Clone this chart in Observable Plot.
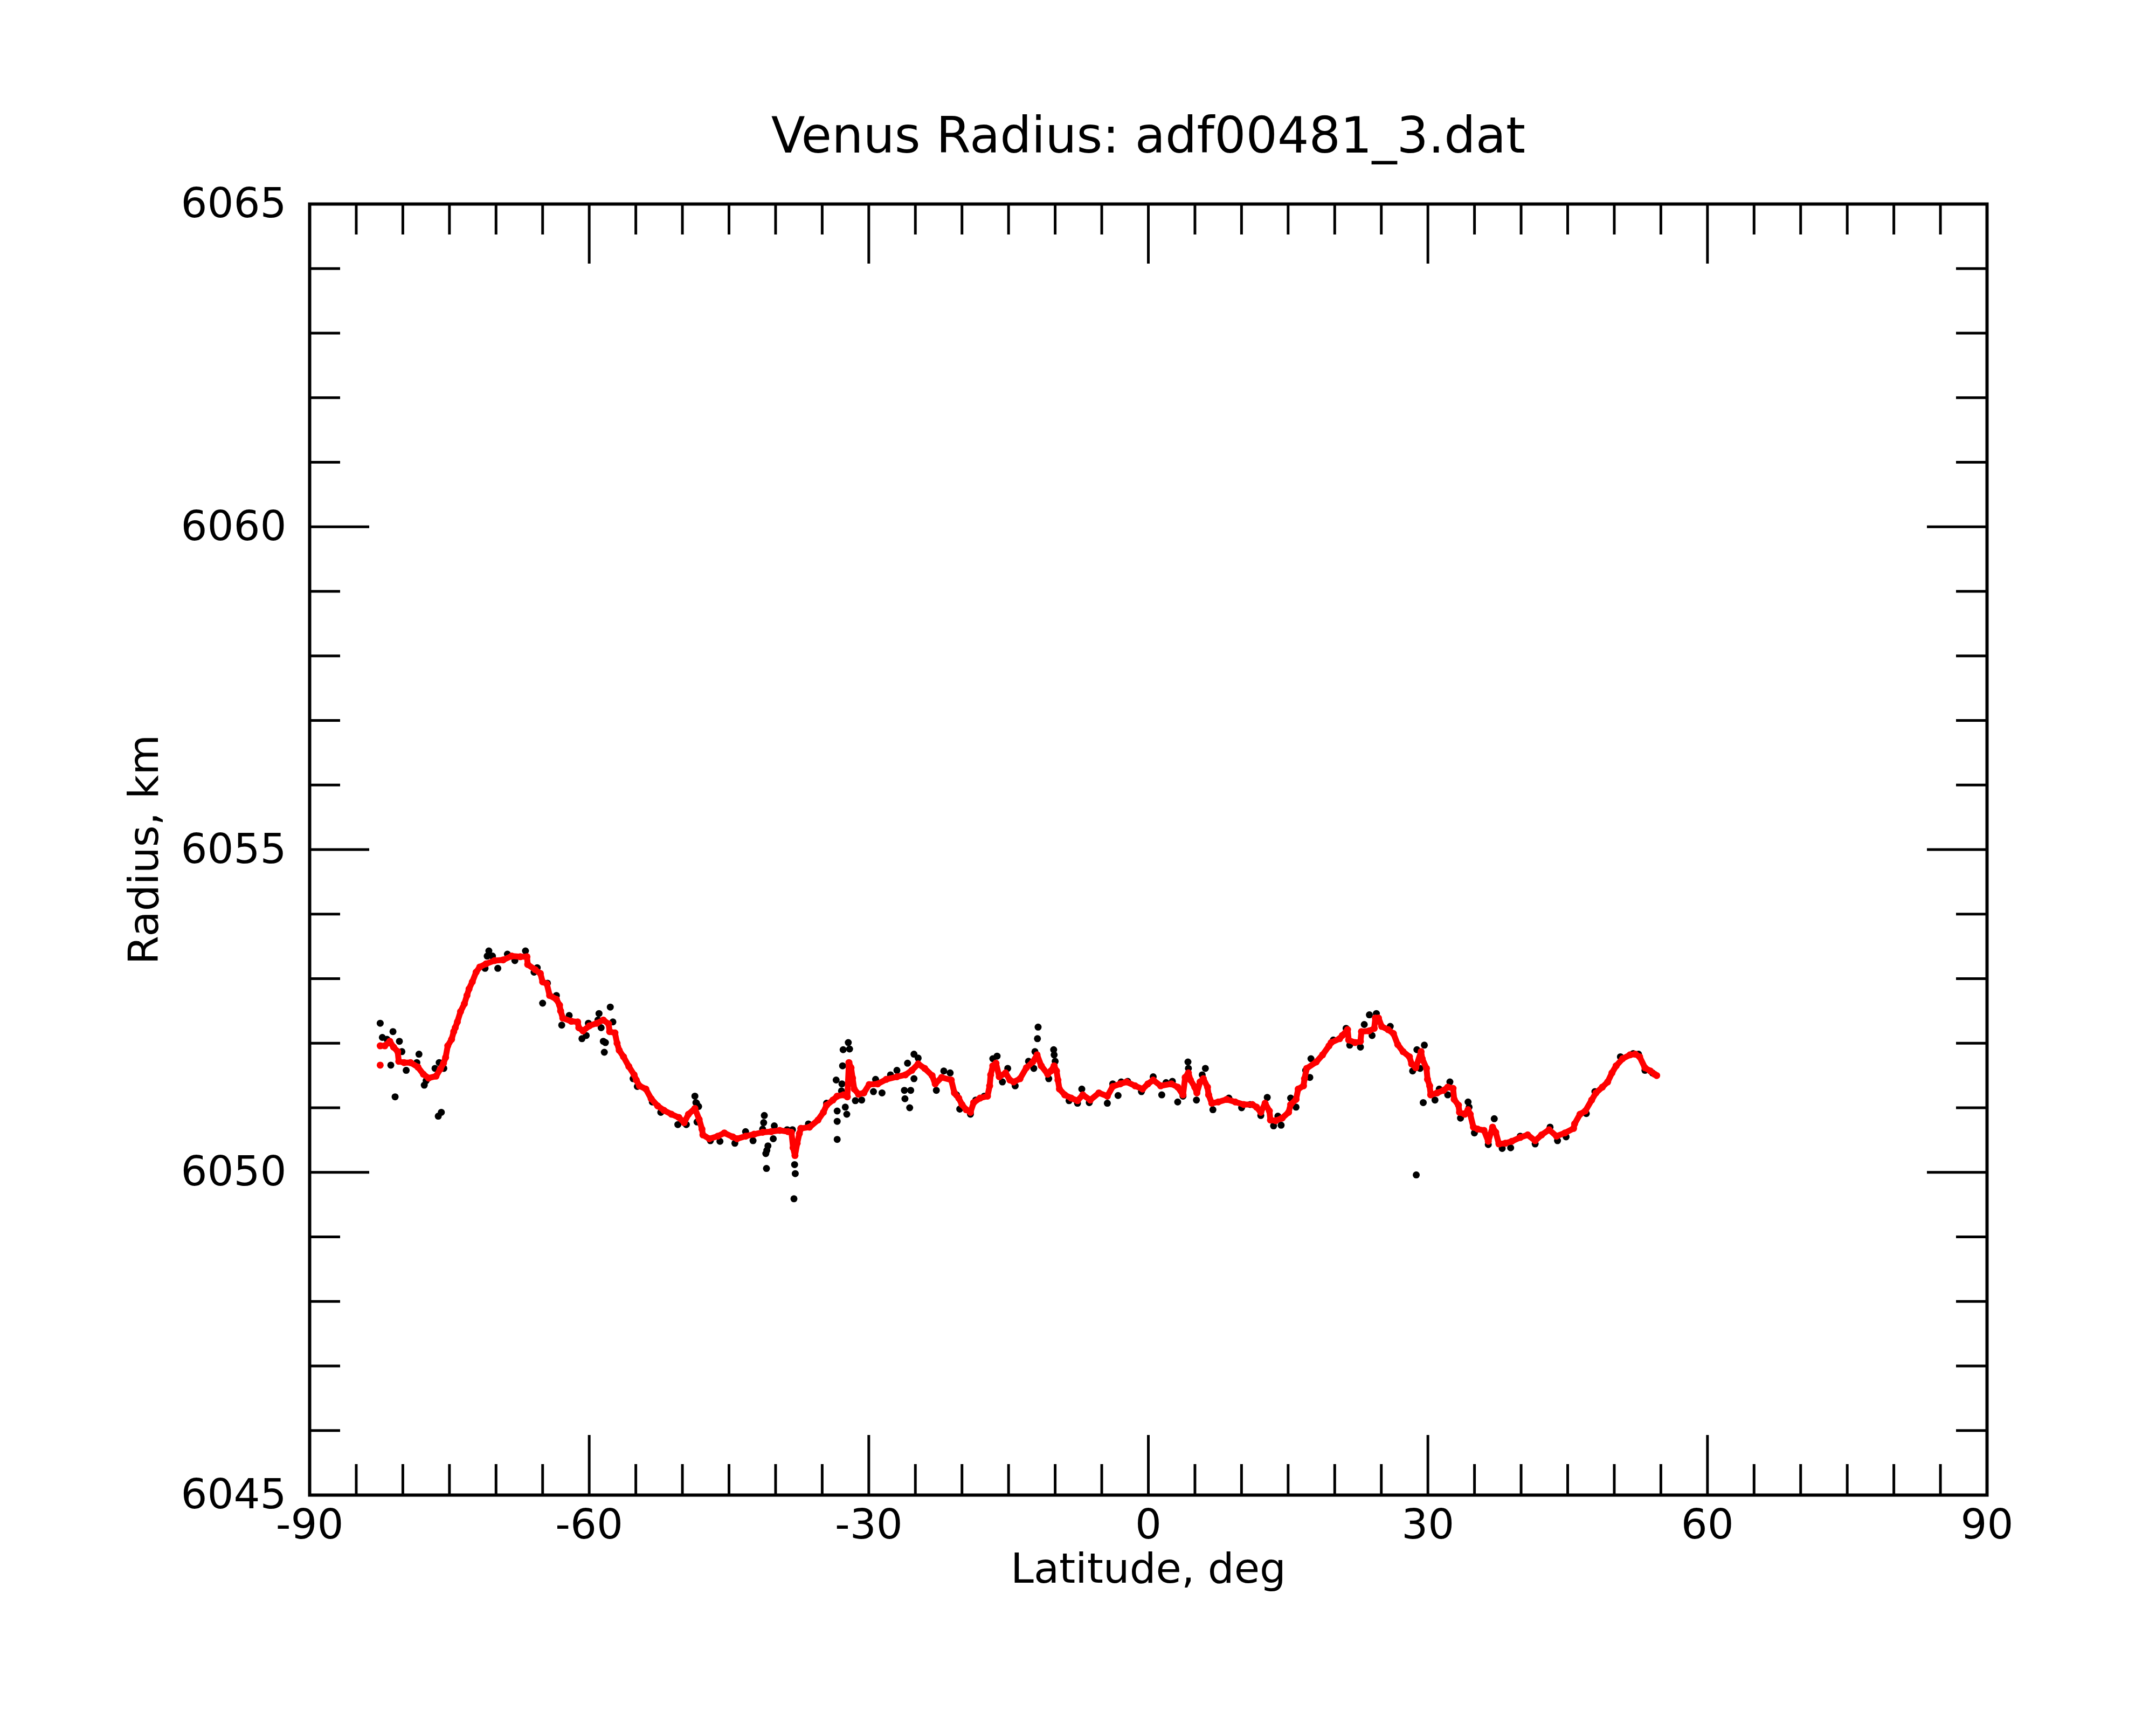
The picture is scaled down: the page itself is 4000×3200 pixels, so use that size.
<!DOCTYPE html>
<html><head><meta charset="utf-8">
<script src="https://cdn.jsdelivr.net/npm/d3@7"></script>
<script src="https://cdn.jsdelivr.net/npm/@observablehq/plot@0.6"></script>
<style>html,body{margin:0;padding:0;background:#fff;}</style>
</head><body><div id="chart"></div>
<script>
const title = "Venus Radius: adf00481_3.dat";
const xLabel = "Latitude, deg";
const yLabel = "Radius, km";
const xTicks = [-90, -60, -30, 0, 30, 60, 90];
const xTickLabels = ["-90", "-60", "-30", "0", "30", "60", "90"];
const xMinor = [-85, -80, -75, -70, -65, -55, -50, -45, -40, -35, -25, -20, -15, -10, -5, 5, 10, 15, 20, 25, 35, 40, 45, 50, 55, 65, 70, 75, 80, 85];
const yTicks = [6045, 6050, 6055, 6060, 6065];
const yTickLabels = ["6045", "6050", "6055", "6060", "6065"];
const yMinor = [6046, 6047, 6048, 6049, 6051, 6052, 6053, 6054, 6056, 6057, 6058, 6059, 6061, 6062, 6063, 6064];

// smoothed radius (red)
const redLat = [-82.43,-81.93,-81.40,-81.00,-80.55,-80.44,-79.87,-79.18,-78.38,-77.80,-77.24,-76.44,-75.98,-75.64,-75.41,-75.18,-74.77,-74.54,-74.38,-74.15,-73.81,-73.40,-73.12,-72.90,-72.55,-72.14,-71.75,-71.07,-70.15,-69.24,-68.32,-67.40,-66.68,-66.60,-65.80,-65.24,-65.00,-64.55,-64.25,-63.52,-63.18,-63.07,-62.84,-61.92,-61.24,-61.12,-60.67,-59.98,-59.18,-58.49,-57.92,-57.81,-57.24,-57.01,-56.78,-56.32,-55.75,-55.18,-54.95,-54.61,-53.92,-53.35,-52.66,-51.98,-51.18,-50.38,-49.81,-49.35,-48.66,-48.20,-47.90,-47.80,-47.11,-46.20,-45.50,-44.60,-44.14,-43.22,-42.31,-41.39,-40.48,-39.56,-38.65,-38.30,-38.12,-37.92,-37.68,-37.45,-37.28,-36.36,-35.45,-34.87,-34.53,-33.85,-33.39,-32.70,-32.30,-32.13,-31.90,-31.74,-31.56,-31.10,-30.53,-29.96,-29.04,-28.13,-26.98,-26.07,-25.38,-24.70,-24.00,-23.21,-22.87,-22.18,-21.15,-20.81,-20.35,-20.00,-19.55,-19.09,-18.75,-18.06,-17.26,-17.03,-16.92,-16.69,-16.35,-16.00,-15.32,-14.86,-14.46,-13.77,-13.09,-12.40,-11.94,-11.49,-10.80,-10.46,-10.11,-9.85,-9.70,-9.54,-8.97,-8.28,-7.60,-7.03,-6.23,-5.31,-4.40,-3.82,-3.02,-2.34,-1.42,-0.62,-0.05,0.52,1.32,2.47,3.15,3.72,3.95,4.30,4.52,4.98,5.21,5.55,5.90,6.35,6.47,6.81,7.50,8.41,9.33,10.24,11.16,11.61,12.07,12.53,12.99,13.10,13.67,14.36,15.05,15.27,15.85,16.08,16.65,16.76,16.99,18.02,18.70,19.39,19.62,20.53,20.81,21.38,21.50,22.18,22.76,22.87,23.67,24.24,24.36,24.70,25.04,25.73,26.30,26.76,27.33,28.02,28.25,28.70,29.27,29.39,29.85,29.96,30.19,30.30,30.99,31.68,32.13,32.70,32.82,33.28,33.39,33.96,34.31,34.54,34.88,35.34,36.02,36.48,36.94,37.28,37.62,38.31,39.00,39.91,40.71,41.51,42.20,43.00,43.80,44.71,45.63,45.74,46.32,46.89,47.57,48.03,48.72,49.29,49.75,50.20,50.89,51.69,52.26,52.72,53.29,53.87,54.32,54.55];
const redVal = [6051.96,6051.96,6052.03,6051.94,6051.87,6051.72,6051.70,6051.70,6051.63,6051.52,6051.46,6051.49,6051.60,6051.69,6051.78,6051.96,6052.06,6052.18,6052.24,6052.33,6052.49,6052.61,6052.74,6052.84,6052.95,6053.10,6053.18,6053.23,6053.28,6053.29,6053.35,6053.34,6053.34,6053.22,6053.14,6053.08,6052.95,6052.92,6052.74,6052.68,6052.59,6052.50,6052.39,6052.34,6052.33,6052.24,6052.19,6052.27,6052.31,6052.36,6052.30,6052.18,6052.16,6052.00,6051.89,6051.79,6051.64,6051.51,6051.43,6051.34,6051.29,6051.14,6051.03,6050.96,6050.90,6050.85,6050.77,6050.90,6050.99,6050.82,6050.67,6050.58,6050.52,6050.56,6050.61,6050.55,6050.52,6050.56,6050.59,6050.62,6050.63,6050.65,6050.63,6050.62,6050.38,6050.26,6050.45,6050.60,6050.68,6050.70,6050.81,6050.93,6051.04,6051.12,6051.18,6051.20,6051.17,6051.70,6051.62,6051.46,6051.29,6051.21,6051.23,6051.36,6051.37,6051.44,6051.48,6051.51,6051.58,6051.68,6051.61,6051.50,6051.37,6051.47,6051.43,6051.23,6051.15,6051.05,6050.97,6050.93,6051.08,6051.15,6051.18,6051.34,6051.51,6051.65,6051.69,6051.48,6051.54,6051.43,6051.40,6051.45,6051.62,6051.71,6051.82,6051.65,6051.52,6051.57,6051.65,6051.57,6051.43,6051.29,6051.20,6051.15,6051.11,6051.20,6051.12,6051.23,6051.18,6051.33,6051.37,6051.40,6051.34,6051.29,6051.37,6051.43,6051.34,6051.37,6051.32,6051.20,6051.47,6051.54,6051.43,6051.32,6051.23,6051.40,6051.45,6051.32,6051.20,6051.07,6051.09,6051.13,6051.09,6051.05,6051.05,6051.01,6050.93,6051.07,6050.95,6050.81,6050.80,6050.84,6050.93,6051.05,6051.13,6051.29,6051.34,6051.45,6051.61,6051.71,6051.82,6051.96,6052.01,6052.07,6052.12,6052.21,6052.05,6052.01,6052.03,6052.18,6052.19,6052.23,6052.39,6052.39,6052.26,6052.21,6052.15,6051.98,6051.87,6051.79,6051.68,6051.62,6051.87,6051.76,6051.61,6051.44,6051.34,6051.20,6051.23,6051.27,6051.32,6051.30,6051.13,6051.04,6050.93,6050.90,6050.97,6050.90,6050.70,6050.67,6050.65,6050.48,6050.70,6050.62,6050.44,6050.45,6050.48,6050.54,6050.58,6050.49,6050.58,6050.66,6050.56,6050.61,6050.68,6050.75,6050.90,6050.95,6051.12,6051.23,6051.32,6051.40,6051.54,6051.65,6051.76,6051.82,6051.83,6051.79,6051.62,6051.57,6051.52,6051.50];
const redExtraLat = [-82.43];
const redExtraVal = [6051.66];

// raw radius samples (black)
const blackLat = [-82.43,-82.20,-81.70,-81.06,-80.37,-80.10,-81.29,-80.83,-79.64,-78.50,-78.27,-77.70,-77.50,-76.55,-76.10,-76.20,-75.87,-75.60,-71.18,-70.95,-70.77,-70.38,-69.81,-68.78,-67.98,-66.84,-65.92,-65.58,-65.00,-64.48,-63.52,-62.95,-62.15,-60.78,-60.32,-60.09,-59.06,-58.95,-58.72,-58.49,-58.26,-58.38,-57.74,-57.46,-55.29,-54.84,-53.23,-52.32,-50.49,-49.58,-48.66,-48.55,-48.43,-48.48,-48.26,-47.00,-45.97,-44.37,-43.22,-42.42,-41.21,-41.28,-41.39,-40.82,-40.94,-41.05,-40.98,-40.14,-40.25,-38.76,-38.19,-37.96,-37.89,-38.03,-37.28,-36.48,-34.53,-33.50,-32.88,-32.93,-33.39,-33.39,-33.39,-32.52,-32.36,-32.75,-32.20,-32.06,-32.81,-31.44,-30.76,-29.50,-28.58,-29.27,-27.67,-26.98,-25.84,-25.15,-24.70,-25.15,-26.18,-25.50,-26.12,-25.61,-22.75,-21.95,-21.27,-20.58,-20.24,-19.09,-18.52,-17.60,-16.69,-16.23,-15.66,-15.09,-14.29,-12.86,-12.29,-11.83,-11.90,-12.17,-10.69,-10.16,-10.11,-10.00,-8.51,-7.60,-7.14,-6.34,-4.40,-3.82,-3.25,-2.91,-2.22,-0.74,0.52,1.44,1.90,2.58,3.15,3.72,4.25,4.30,5.16,5.21,6.12,5.78,6.93,8.64,10.01,10.93,12.07,12.76,13.44,14.25,13.90,15.27,15.85,16.88,17.33,17.45,19.85,21.22,21.61,22.76,23.17,23.72,24.47,24.01,25.96,28.36,28.82,29.62,29.16,29.50,28.75,30.76,31.22,32.36,32.13,33.50,34.31,34.42,34.99,36.48,37.12,37.97,38.88,39.91,41.51,43.11,43.91,44.83,47.00,47.92,50.66,52.03,52.60,53.29,54.10];
const blackVal = [6052.31,6052.09,6052.06,6052.18,6052.03,6051.87,6051.66,6051.17,6051.58,6051.70,6051.83,6051.35,6051.42,6051.61,6051.70,6050.87,6050.93,6051.61,6053.16,6053.35,6053.43,6053.35,6053.16,6053.38,6053.28,6053.43,6053.10,6053.17,6052.62,6052.93,6052.74,6052.28,6052.43,6052.07,6052.12,6052.31,6052.36,6052.46,6052.24,6052.03,6052.01,6051.86,6052.56,6052.33,6051.45,6051.33,6051.09,6050.93,6050.74,6050.74,6051.18,6051.08,6050.78,6051.07,6051.02,6050.49,6050.48,6050.45,6050.63,6050.49,6050.88,6050.77,6050.67,6050.41,6050.34,6050.29,6050.06,6050.72,6050.52,6050.66,6050.66,6050.12,6049.98,6049.59,6050.68,6050.75,6051.07,6051.43,6051.37,6051.26,6050.95,6050.79,6050.51,6051.01,6050.90,6051.90,6052.01,6051.91,6051.65,6051.11,6051.12,6051.25,6051.23,6051.44,6051.51,6051.58,6051.69,6051.83,6051.77,6051.45,6051.27,6051.27,6051.14,6051.00,6051.27,6051.57,6051.54,6051.20,6050.98,6050.90,6051.12,6051.18,6051.76,6051.80,6051.40,6051.61,6051.34,6051.72,6051.61,6052.25,6052.07,6051.87,6051.45,6051.90,6051.82,6051.72,6051.11,6051.07,6051.29,6051.08,6051.07,6051.37,6051.19,6051.40,6051.41,6051.25,6051.48,6051.20,6051.39,6051.41,6051.09,6051.18,6051.71,6051.61,6051.12,6051.32,6051.61,6051.51,6050.97,6051.15,6051.00,6051.05,6050.88,6051.16,6050.72,6050.73,6050.87,6051.15,6051.01,6051.58,6051.47,6051.76,6052.05,6052.23,6051.97,6051.94,6052.29,6052.44,6052.46,6052.12,6052.26,6051.57,6051.90,6051.97,6051.61,6051.08,6049.96,6051.12,6051.29,6051.40,6051.20,6050.84,6051.09,6051.01,6050.61,6050.43,6050.83,6050.37,6050.38,6050.56,6050.44,6050.70,6050.49,6050.55,6050.91,6051.25,6051.79,6051.84,6051.83,6051.58,6051.54];

const red = redLat.map((x, i) => ({x, y: redVal[i]}));
const redExtra = redExtraLat.map((x, i) => ({x, y: redExtraVal[i]}));
const black = blackLat.map((x, i) => ({x, y: blackVal[i]}));

const W = 4000, H = 3200, mL = 574, mR = 314, mT = 378, mB = 427;
const fw = W - mL - mR, fh = H - mT - mB;
const majorLen = 111, minorLen = 57, tickW = 5;
const font = 77;

const chart = Plot.plot({
  width: W, height: H,
  marginLeft: mL, marginRight: mR, marginTop: mT, marginBottom: mB,
  x: {domain: [-90, 90], axis: null},
  y: {domain: [6045, 6065], axis: null},
  style: {fontFamily: "DejaVu Sans", background: "white", color: "black"},
  marks: [
    Plot.dot(black, {x: "x", y: "y", r: 6.5, fill: "black"}),
    Plot.line(red, {x: "x", y: "y", stroke: "#ff0000", strokeWidth: 11}),
    Plot.dot(red, {x: "x", y: "y", r: 6.5, fill: "#ff0000"}),
    Plot.dot(redExtra, {x: "x", y: "y", r: 6.5, fill: "#ff0000"}),
    // x ticks bottom and top
    Plot.tickX(xTicks, {x: d => d, insetTop: fh - majorLen, stroke: "black", strokeWidth: tickW}),
    Plot.tickX(xMinor, {x: d => d, insetTop: fh - minorLen, stroke: "black", strokeWidth: tickW}),
    Plot.tickX(xTicks, {x: d => d, insetBottom: fh - majorLen, stroke: "black", strokeWidth: tickW}),
    Plot.tickX(xMinor, {x: d => d, insetBottom: fh - minorLen, stroke: "black", strokeWidth: tickW}),
    // y ticks left and right
    Plot.tickY(yTicks, {y: d => d, insetRight: fw - majorLen, stroke: "black", strokeWidth: tickW}),
    Plot.tickY(yMinor, {y: d => d, insetRight: fw - minorLen, stroke: "black", strokeWidth: tickW}),
    Plot.tickY(yTicks, {y: d => d, insetLeft: fw - majorLen, stroke: "black", strokeWidth: tickW}),
    Plot.tickY(yMinor, {y: d => d, insetLeft: fw - minorLen, stroke: "black", strokeWidth: tickW}),
    Plot.frame({stroke: "black", strokeWidth: 6}),
    // tick labels
    Plot.text(xTickLabels, {x: (d, i) => xTicks[i], text: d => d, frameAnchor: "bottom", dy: 80, lineAnchor: "bottom", textAnchor: "middle", fontSize: font, fill: "black"}),
    Plot.text(yTickLabels, {y: (d, i) => yTicks[i], text: d => d, frameAnchor: "left", dx: -43, textAnchor: "end", lineAnchor: "middle", fontSize: font, fill: "black"}),
    // titles
    Plot.text([title], {text: d => d, frameAnchor: "top", dy: -96, lineAnchor: "bottom", textAnchor: "middle", fontSize: 92, fill: "black"}),
    Plot.text([xLabel], {text: d => d, frameAnchor: "bottom", dy: 162, lineAnchor: "bottom", textAnchor: "middle", fontSize: font, fill: "black"}),
    Plot.text([yLabel], {text: d => d, frameAnchor: "left", dx: -282, rotate: -90, lineAnchor: "bottom", textAnchor: "middle", fontSize: font, fill: "black"})
  ]
});
document.getElementById("chart").appendChild(chart);
</script>
</body></html>
